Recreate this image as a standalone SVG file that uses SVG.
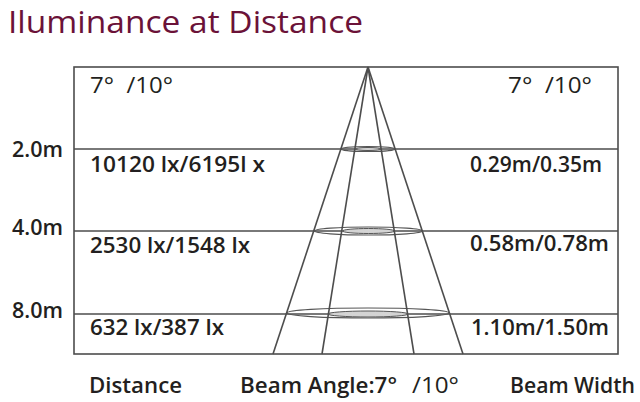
<svg xmlns="http://www.w3.org/2000/svg" width="640" height="402" viewBox="0 0 640 402">
<style>
.ln{stroke:#4d4d4d;stroke-width:1.6;fill:none}
.el{stroke:#555;stroke-width:1.2;fill:none}
.ei{stroke:#555;stroke-width:1;fill:#d4d4d4}
.t{font-family:"Open Sans","Noto Sans","Liberation Sans",sans-serif;fill:#231f20;white-space:pre}
.b{font-weight:600;font-size:21px}
.r{font-weight:400;font-size:22px}
</style>
<rect width="640" height="402" fill="#fff"/>
<text id="title" x="8" y="33" font-family="'Open Sans','Noto Sans','Liberation Sans',sans-serif" font-size="31" fill="#6b1238" textLength="355" lengthAdjust="spacingAndGlyphs">Iluminance at Distance</text>
<g id="table">
<rect class="ln" x="74" y="67" width="544" height="287"/>
<line class="ln" x1="74" y1="149" x2="618" y2="149"/>
<line class="ln" x1="74" y1="231" x2="618" y2="231"/>
<line class="ln" x1="74" y1="314" x2="618" y2="314"/>
</g>
<g id="beam">
<ellipse class="ei" cx="368" cy="149" rx="13" ry="1.5"/>
<ellipse class="el" cx="368" cy="149" rx="27" ry="2.5"/>
<ellipse class="ei" cx="368.5" cy="231" rx="26" ry="2.5"/>
<ellipse class="el" cx="368.5" cy="231" rx="54" ry="4"/>
<ellipse class="ei" cx="368" cy="314" rx="40" ry="3"/>
<ellipse class="el" cx="368" cy="313" rx="81" ry="5"/>
<line class="ln" x1="368" y1="67" x2="273" y2="354"/>
<line class="ln" x1="368" y1="67" x2="322" y2="354"/>
<line class="ln" x1="368" y1="67" x2="414" y2="354"/>
<line class="ln" x1="368" y1="67" x2="463" y2="354"/>
</g>
<g id="labels">
<text class="t r" x="90" y="93" textLength="83" lengthAdjust="spacingAndGlyphs">7°  /10°</text>
<text class="t r" x="508" y="93" textLength="84" lengthAdjust="spacingAndGlyphs">7°  /10°</text>
<text class="t b" x="12" y="157" textLength="51" lengthAdjust="spacingAndGlyphs">2.0m</text>
<text class="t b" x="12" y="235" textLength="51" lengthAdjust="spacingAndGlyphs">4.0m</text>
<text class="t b" x="12" y="318" textLength="51" lengthAdjust="spacingAndGlyphs">8.0m</text>
<text class="t b" x="90" y="172" textLength="175" lengthAdjust="spacingAndGlyphs">10120 lx/6195l x</text>
<text class="t b" x="90" y="253" textLength="160" lengthAdjust="spacingAndGlyphs">2530 lx/1548 lx</text>
<text class="t b" x="90" y="335" textLength="134" lengthAdjust="spacingAndGlyphs">632 lx/387 lx</text>
<text class="t b" x="470" y="172" textLength="132" lengthAdjust="spacingAndGlyphs">0.29m/0.35m</text>
<text class="t b" x="470" y="251" textLength="139" lengthAdjust="spacingAndGlyphs">0.58m/0.78m</text>
<text class="t b" x="471" y="335" textLength="138" lengthAdjust="spacingAndGlyphs">1.10m/1.50m</text>
<text class="t b" x="89" y="393" textLength="93" lengthAdjust="spacingAndGlyphs">Distance</text>
<text class="t b" x="240" y="393"><tspan textLength="157" lengthAdjust="spacingAndGlyphs">Beam Angle:7°</tspan><tspan x="412" font-weight="400" font-size="22" textLength="47" lengthAdjust="spacingAndGlyphs">/10°</tspan></text>
<text class="t b" x="510" y="393" textLength="125" lengthAdjust="spacingAndGlyphs">Beam Width</text>
</g>
</svg>
